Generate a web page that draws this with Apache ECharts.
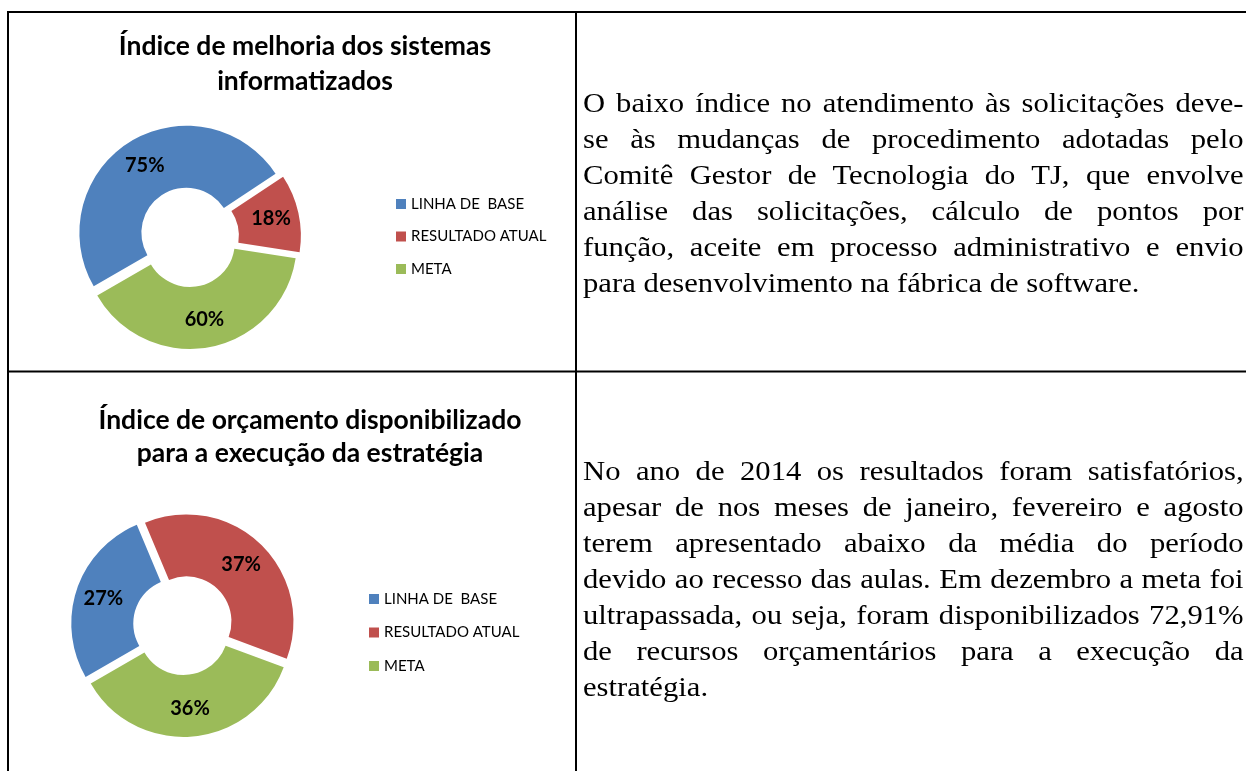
<!DOCTYPE html>
<html>
<head>
<meta charset="utf-8">
<script src="https://cdn.jsdelivr.net/npm/echarts@6/dist/echarts.min.js"></script>
<style>
    html, body { margin: 0; padding: 0; background: #fff; }
    #wrap { position: relative; width: 1246px; height: 771px; overflow: hidden; }
    #chart { position: absolute; left: 0; top: 0; width: 1246px; height: 771px; }
    /* texto em Times um pouco esticado na horizontal, como no original */
    .txt {
        position: absolute;
        left: 583px;
        width: 582px;
        font-family: "Liberation Serif", "Times New Roman", serif;
        font-size: 27px;
        line-height: 36px;
        text-align: justify;
        color: #000;
        transform: scaleX(1.135);
        transform-origin: 0 0;
    }
</style>
</head>
<body>
<div id="wrap">
    <div id="chart"></div>
    <div class="txt" id="txt1" style="top:85px"></div>
    <div class="txt" id="txt2" style="top:453px"></div>
</div>
<script>
// categorias da legenda (iguais nos dois graficos)
const categorias = ['LINHA DE  BASE', 'RESULTADO ATUAL', 'META'];
// valores
const sistemasValores = [75, 18, 60];
const orcamentoValores = [27, 37, 36];
const cores = ['#4F81BD', '#C0504D', '#9BBB59'];

const tituloSistemas = 'Índice de melhoria dos sistemas\ninformatizados';
const tituloOrcamento = 'Índice de orçamento disponibilizado\npara a execução da estratégia';

const textoSistemas = 'O baixo índice no atendimento às solicitações deve-se às mudanças de procedimento adotadas pelo Comitê Gestor de Tecnologia do TJ, que envolve análise das solicitações, cálculo de pontos por função, aceite em processo administrativo e envio para desenvolvimento na fábrica de software.';
const textoOrcamento = 'No ano de 2014 os resultados foram satisfatórios, apesar de nos meses de janeiro, fevereiro e agosto terem apresentado abaixo da média do período devido ao recesso das aulas. Em dezembro a meta foi ultrapassada, ou seja, foram disponibilizados 72,91% de recursos orçamentários para a execução da estratégia.';

document.getElementById('txt1').textContent = textoSistemas;
document.getElementById('txt2').textContent = textoOrcamento;

const fonte = 'Lato, "Open Sans", sans-serif';

// monta os dados de cada rosca (todas as fatias destacadas)
function montaDados (valores) {
    return valores.map((v, i) => ({
        name: categorias[i],
        value: v,
        selected: true,
        itemStyle: { color: cores[i] },
        select: { itemStyle: { color: cores[i] } }
    }));
}

function rosca (valores, center) {
    return {
        type: 'pie',
        center: center,
        radius: [45, 107],
        startAngle: 210,
        clockwise: true,
        selectedMode: 'multiple',
        selectedOffset: 5,
        avoidLabelOverlap: false,
        label: {
            show: true,
            position: 'inside',
            formatter: '{c}%',
            fontFamily: fonte,
            fontWeight: 'bold',
            fontSize: 20,
            color: '#000'
        },
        labelLine: { show: false },
        emphasis: { disabled: true },
        data: montaDados(valores)
    };
}

function legenda (left, top, gap) {
    return {
        orient: 'vertical',
        left: left,
        top: top,
        padding: 0,
        itemWidth: 10,
        itemHeight: 10,
        itemGap: gap,
        icon: 'rect',
        selectedMode: false,
        data: categorias,
        textStyle: {
            fontFamily: fonte,
            fontSize: 15,
            lineHeight: 16,
            color: '#000'
        }
    };
}

function titulo (text, left, top, lineHeight) {
    return {
        text: text,
        left: left,
        top: top,
        padding: 0,
        textAlign: 'center',
        textStyle: {
            fontFamily: fonte,
            fontWeight: 'bold',
            fontSize: 26.5,
            lineHeight: lineHeight,
            color: '#000'
        }
    };
}

const linha = (x1, y1, x2, y2) => ({
    type: 'line',
    shape: { x1: x1, y1: y1, x2: x2, y2: y2 },
    style: { stroke: '#000', lineWidth: 2 },
    silent: true
});

const option = {
    animation: false,
    color: cores,
    title: [
        titulo(tituloSistemas, 305, 29, 35),
        titulo(tituloOrcamento, 310, 404, 33)
    ],
    legend: [
        legenda(396, 196, 16.5),
        legenda(369, 591, 17.5)
    ],
    graphic: [
        linha(8, 12, 1246, 12),
        linha(8, 11, 8, 771),
        linha(576, 12, 576, 771),
        linha(8, 371.5, 1246, 371.5)
    ],
    series: [
        rosca(sistemasValores, [189, 237]),
        rosca(orcamentoValores, [183, 625])
    ]
};

const myChart = echarts.init(document.getElementById('chart'));
myChart.setOption(option);
</script>
</body>
</html>
